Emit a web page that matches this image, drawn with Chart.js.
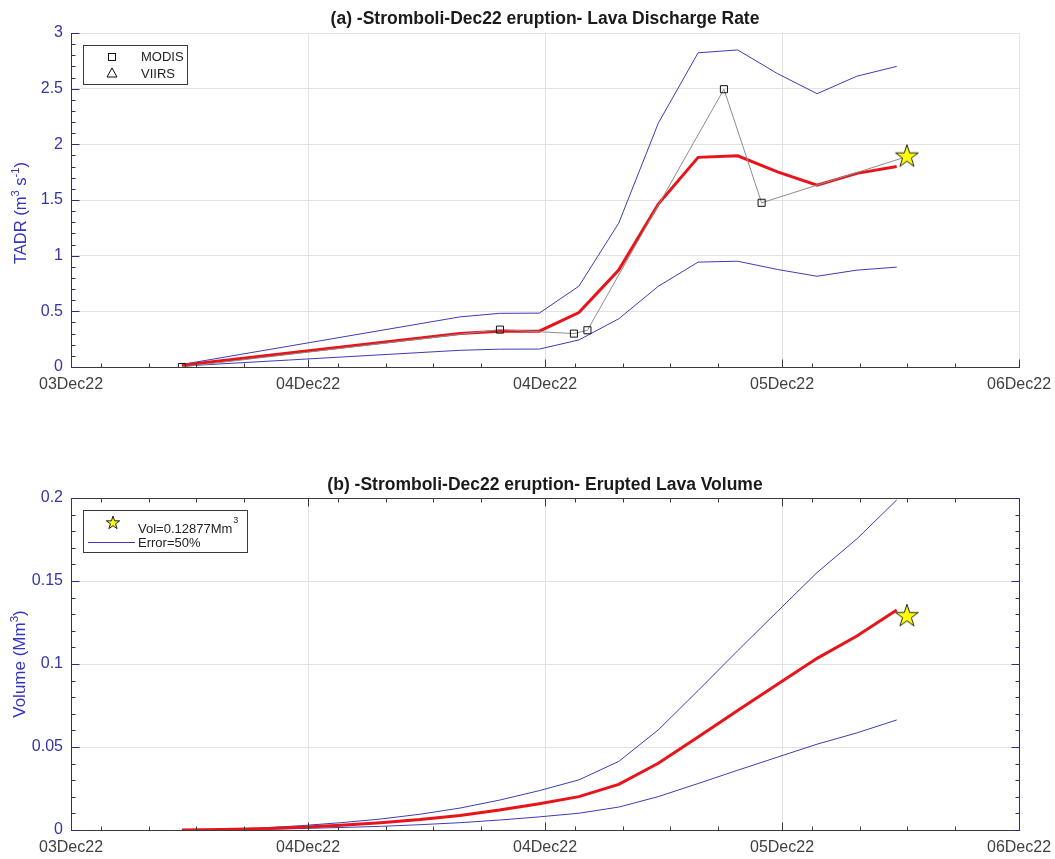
<!DOCTYPE html>
<html><head><meta charset="utf-8">
<script src="https://cdn.jsdelivr.net/npm/chart.js@4.4.0/dist/chart.umd.min.js"></script>
<style>
html,body{margin:0;padding:0;background:#fff;overflow:hidden;}
#c1{position:absolute;left:0;top:0;}
#c2{position:absolute;left:0;top:430px;}
</style></head><body>
<canvas id="c1" width="1055" height="430"></canvas>
<canvas id="c2" width="1055" height="429"></canvas>
<script>
// ---------- shared axis data ----------
const xTickValues = [0, 1, 2, 3, 4];
const xTickLabels = ['03Dec22', '04Dec22', '04Dec22', '05Dec22', '06Dec22'];
const xMinorTicks = [0.128, 0.329, 0.529, 0.730, 1.128, 1.329, 1.529, 1.730, 2.128, 2.329, 2.529, 2.730, 3.128, 3.329, 3.529, 3.730];

// ---------- panel (a): TADR ----------
const tadrTime  = [0.468, 1.641, 1.808, 1.976, 2.143, 2.311, 2.478, 2.646, 2.813, 2.981, 3.148, 3.316, 3.484];
const tadrMean  = [0.015, 0.300, 0.322, 0.322, 0.489, 0.870, 1.463, 1.883, 1.897, 1.753, 1.634, 1.739, 1.800];
const tadrUpper = [0.023, 0.450, 0.482, 0.484, 0.726, 1.292, 2.190, 2.822, 2.848, 2.635, 2.455, 2.612, 2.700];
const tadrLower = [0.008, 0.150, 0.160, 0.161, 0.243, 0.433, 0.725, 0.942, 0.950, 0.876, 0.815, 0.870, 0.897];
const modisTime = [0.468, 1.810, 2.122, 2.179, 2.755, 2.914];
const modisTadr = [0.000, 0.336, 0.300, 0.330, 2.495, 1.475];
const starTime  = [3.527];
const starTadr  = [1.89];
const tadrYTicks = [0, 0.5, 1, 1.5, 2, 2.5, 3];
const tadrYMinor = [0.1,0.2,0.3,0.4,0.6,0.7,0.8,0.9,1.1,1.2,1.3,1.4,1.6,1.7,1.8,1.9,2.1,2.2,2.3,2.4,2.6,2.7,2.8,2.9];

// ---------- panel (b): volume ----------
const volTime  = [0.468,0.636,0.803,0.971,1.138,1.306,1.473,1.641,1.808,1.976,2.143,2.311,2.478,2.646,2.813,2.981,3.148,3.316,3.484];
const volMean  = [0, 0.0003, 0.0008, 0.0017, 0.0029, 0.0044, 0.0063, 0.0088, 0.0120, 0.0158, 0.0201, 0.0275, 0.0402, 0.0560, 0.0720, 0.0878, 0.1034, 0.1169, 0.1325];
const volUpper = [0, 0.0005, 0.0012, 0.0026, 0.0044, 0.0066, 0.0095, 0.0132, 0.0180, 0.0237, 0.0302, 0.0413, 0.0603, 0.0840, 0.1080, 0.1317, 0.1551, 0.1754, 0.1988];
const volLower = [0, 0.0002, 0.0004, 0.0009, 0.0015, 0.0022, 0.0032, 0.0044, 0.0060, 0.0079, 0.0101, 0.0138, 0.0201, 0.0280, 0.0360, 0.0439, 0.0517, 0.0585, 0.0663];
const volStarTime = [3.527];
const volStar     = [0.12877];
const volYTicks = [0, 0.05, 0.1, 0.15, 0.2];
const volYMinor = [0.01,0.02,0.03,0.04,0.06,0.07,0.08,0.09,0.11,0.12,0.13,0.14,0.16,0.17,0.18,0.19];

// ---------- styling ----------
const FONT = "'Liberation Sans', Arial, Helvetica, sans-serif";
Chart.defaults.font.family = FONT;
const BLUE = '#3c3cb4';
const RED = '#e8141a';
const GRID = '#e3e3e3';
const XAXIS = '#3a3a3a';
const YAXIS = '#2c2c84';
const YLAB = '#3535a8';
const YTITLE = '#3434c0';

function makeStar(R, lw) {
  const pad = 2, s = Math.ceil(2 * R + 2 * pad);
  const c = document.createElement('canvas'); c.width = s; c.height = s;
  const g = c.getContext('2d'); const cx = s / 2, cy = s / 2;
  g.beginPath();
  for (let k = 0; k < 10; k++) {
    const r = k % 2 ? R * 0.382 : R;
    const a = -Math.PI / 2 + k * Math.PI / 5;
    g.lineTo(cx + r * Math.cos(a), cy + r * Math.sin(a));
  }
  g.closePath(); g.fillStyle = '#ffff00'; g.fill();
  g.lineWidth = lw; g.strokeStyle = '#222'; g.stroke();
  return c;
}
const bigStar = makeStar(12, 1);
const smallStar = makeStar(7, 1);

const pts = (xs, ys) => xs.map((x, i) => ({x: x, y: ys[i]}));

const inwardTicks = {
  id: 'inwardTicks',
  afterDatasetsDraw(chart, args, o) {
    if (!o || !o.yMajor) return;
    const {ctx, chartArea: a, scales: {x, y}} = chart;
    const X = v => Math.round(x.getPixelForValue(v)) + 0.5;
    const Y = v => Math.round(y.getPixelForValue(v)) + 0.5;
    const L = (x1, y1, x2, y2) => { ctx.beginPath(); ctx.moveTo(x1, y1); ctx.lineTo(x2, y2); ctx.stroke(); };
    ctx.save(); ctx.lineWidth = 1;
    const top = Math.round(a.top) + 0.5, bot = Math.round(a.bottom) + 0.5;
    const lft = Math.round(a.left) + 0.5, rgt = Math.round(a.right) + 0.5;
    ctx.strokeStyle = XAXIS;
    if (o.box) L(lft, top, rgt, top);
    xTickValues.forEach(v => { L(X(v), bot, X(v), bot - 8); if (o.box) L(X(v), top, X(v), top + 8); });
    xMinorTicks.forEach(v => { L(X(v), bot, X(v), bot - 4); if (o.box) L(X(v), top, X(v), top + 4); });
    ctx.strokeStyle = YAXIS;
    if (o.box) L(rgt, top, rgt, bot);
    o.yMajor.forEach(v => { L(lft, Y(v), lft + 8, Y(v)); if (o.box) L(rgt, Y(v), rgt - 8, Y(v)); });
    o.yMinor.forEach(v => { L(lft, Y(v), lft + 4, Y(v)); if (o.box) L(rgt, Y(v), rgt - 4, Y(v)); });
    ctx.restore();
  }
};

// rotated y-axis title with real superscripts
const yTitle = {
  id: 'yTitle',
  afterDraw(chart, args, o) {
    if (!o || !o.segs) return;
    const ctx = chart.ctx, size = o.size;
    ctx.save();
    ctx.translate(o.cx, o.cy); ctx.rotate(-Math.PI / 2);
    ctx.fillStyle = YTITLE; ctx.textBaseline = 'alphabetic'; ctx.textAlign = 'left';
    let total = 0;
    const w = o.segs.map(s => { ctx.font = (s.sup ? size * 0.68 : size) + 'px ' + FONT; const m = ctx.measureText(s.t).width; total += m; return m; });
    let x = -total / 2;
    const base = size * 0.36;
    o.segs.forEach((s, i) => {
      ctx.font = (s.sup ? size * 0.68 : size) + 'px ' + FONT;
      ctx.fillText(s.t, x, base - (s.sup ? size * 0.42 : 0));
      x += w[i];
    });
    ctx.restore();
  }
};

const legendBox = {
  id: 'legendBox',
  afterDraw(chart, args, o) {
    if (!o || !o.kind) return;
    const ctx = chart.ctx;
    ctx.save();
    ctx.font = '13px ' + FONT; ctx.textBaseline = 'middle'; ctx.textAlign = 'left';
    if (o.kind === 'a') {
      ctx.fillStyle = '#fff'; ctx.fillRect(83.5, 45.5, 104, 39);
      ctx.strokeStyle = '#3a3a3a'; ctx.lineWidth = 1; ctx.strokeRect(83.5, 45.5, 104, 39);
      ctx.strokeStyle = '#111';
      ctx.strokeRect(108.5, 53.5, 7, 7);
      ctx.beginPath(); ctx.moveTo(112, 68); ctx.lineTo(117, 77); ctx.lineTo(107, 77); ctx.closePath(); ctx.stroke();
      ctx.fillStyle = '#222';
      ctx.fillText('MODIS', 141, 57);
      ctx.fillText('VIIRS', 141, 74);
    } else {
      ctx.fillStyle = '#fff'; ctx.fillRect(83.5, 80.5, 164, 42);
      ctx.strokeStyle = '#3a3a3a'; ctx.lineWidth = 1; ctx.strokeRect(83.5, 80.5, 164, 42);
      ctx.drawImage(smallStar, 113 - smallStar.width / 2, 93 - smallStar.height / 2);
      ctx.fillStyle = '#222';
      ctx.fillText('Vol=0.12877Mm', 138, 99);
      const w = ctx.measureText('Vol=0.12877Mm').width;
      ctx.font = '9px ' + FONT;
      ctx.fillText('3', 138 + w + 1, 91);
      ctx.font = '13px ' + FONT;
      ctx.fillText('Error=50%', 138, 113);
      ctx.strokeStyle = BLUE; ctx.beginPath(); ctx.moveTo(88, 112.5); ctx.lineTo(135, 112.5); ctx.stroke();
    }
    ctx.restore();
  }
};

function baseScales(yMax, yTicks, xHeight) {
  return {
    x: {
      type: 'linear', min: 0, max: 4,
      afterBuildTicks: s => { s.ticks = xTickValues.map(v => ({value: v})); },
      afterFit: s => { s.height = xHeight; s.paddingLeft = 0; s.paddingRight = 0; },
      ticks: { callback: (v, i) => xTickLabels[i], color: '#404040', font: {size: 16}, padding: 8, maxRotation: 0, autoSkip: false },
      grid: { color: GRID, drawTicks: false },
      border: { color: XAXIS, width: 1 }
    },
    y: {
      min: 0, max: yMax,
      afterBuildTicks: s => { s.ticks = yTicks.map(v => ({value: v})); },
      afterFit: s => { s.width = 71; s.paddingTop = 0; s.paddingBottom = 0; },
      ticks: { callback: v => String(v), color: YLAB, font: {size: 16}, padding: 8 },
      grid: { color: GRID, drawTicks: false },
      border: { color: YAXIS, width: 1 }
    }
  };
}

new Chart(document.getElementById('c1'), {
  type: 'line',
  data: {
    datasets: [
      { label: 'VIIRS', data: pts(starTime, starTadr), showLine: false, pointStyle: bigStar, pointRadius: 12, order: 0 },
      { label: 'MODIS', data: pts(modisTime.concat(starTime), modisTadr.concat(starTadr)),
        borderColor: '#8c8c8c', borderWidth: 1, pointStyle: 'rect', pointRadius: [5,5,5,5,5,5,0],
        pointBackgroundColor: 'rgba(0,0,0,0)', pointBorderColor: '#111', pointBorderWidth: 1, order: 1 },
      { label: 'TADR', data: pts(tadrTime, tadrMean), borderColor: RED, borderWidth: 3, pointRadius: 0, order: 2 },
      { label: 'Upper', data: pts(tadrTime, tadrUpper), borderColor: BLUE, borderWidth: 1, pointRadius: 0, order: 3 },
      { label: 'Lower', data: pts(tadrTime, tadrLower), borderColor: BLUE, borderWidth: 1, pointRadius: 0, order: 4 }
    ]
  },
  options: {
    responsive: false, animation: false, devicePixelRatio: 1,
    layout: { padding: { left: 0, right: 36, top: 0, bottom: 0 } },
    scales: baseScales(3, tadrYTicks, 63),
    plugins: {
      legend: { display: false }, tooltip: { enabled: false },
      title: { display: true, fullSize: false, text: '(a) -Stromboli-Dec22 eruption- Lava Discharge Rate',
               color: '#1a1a1a', font: { size: 17.5, weight: 'bold' }, padding: { top: 8.5, bottom: 3.5 } },
      inwardTicks: { yMajor: tadrYTicks, yMinor: tadrYMinor, box: false },
      yTitle: { segs: [{t: 'TADR (m'}, {t: '3', sup: 1}, {t: ' s'}, {t: '-1', sup: 1}, {t: ')'}], cx: 20, cy: 213, size: 16.5 },
      legendBox: { kind: 'a' }
    }
  },
  plugins: [inwardTicks, yTitle, legendBox]
});

new Chart(document.getElementById('c2'), {
  type: 'line',
  data: {
    datasets: [
      { label: 'Vol', data: pts(volStarTime, volStar), showLine: false, pointStyle: bigStar, pointRadius: 12, order: 0 },
      { label: 'Volume', data: pts(volTime, volMean), borderColor: RED, borderWidth: 3, pointRadius: 0, order: 2 },
      { label: 'Upper', data: pts(volTime, volUpper), borderColor: BLUE, borderWidth: 1, pointRadius: 0, order: 3 },
      { label: 'Lower', data: pts(volTime, volLower), borderColor: BLUE, borderWidth: 1, pointRadius: 0, order: 4 }
    ]
  },
  options: {
    responsive: false, animation: false, devicePixelRatio: 1,
    layout: { padding: { left: 0, right: 36, top: 0, bottom: 0 } },
    scales: baseScales(0.2, volYTicks, 29),
    plugins: {
      legend: { display: false }, tooltip: { enabled: false },
      title: { display: true, fullSize: false, text: '(b) -Stromboli-Dec22 eruption- Erupted Lava Volume',
               color: '#1a1a1a', font: { size: 17.5, weight: 'bold' }, padding: { top: 44.5, bottom: 2.5 } },
      inwardTicks: { yMajor: volYTicks, yMinor: volYMinor, box: true },
      yTitle: { segs: [{t: 'Volume (Mm'}, {t: '3', sup: 1}, {t: ')'}], cx: 19, cy: 234, size: 17 },
      legendBox: { kind: 'b' }
    }
  },
  plugins: [inwardTicks, yTitle, legendBox]
});
</script>
</body></html>
